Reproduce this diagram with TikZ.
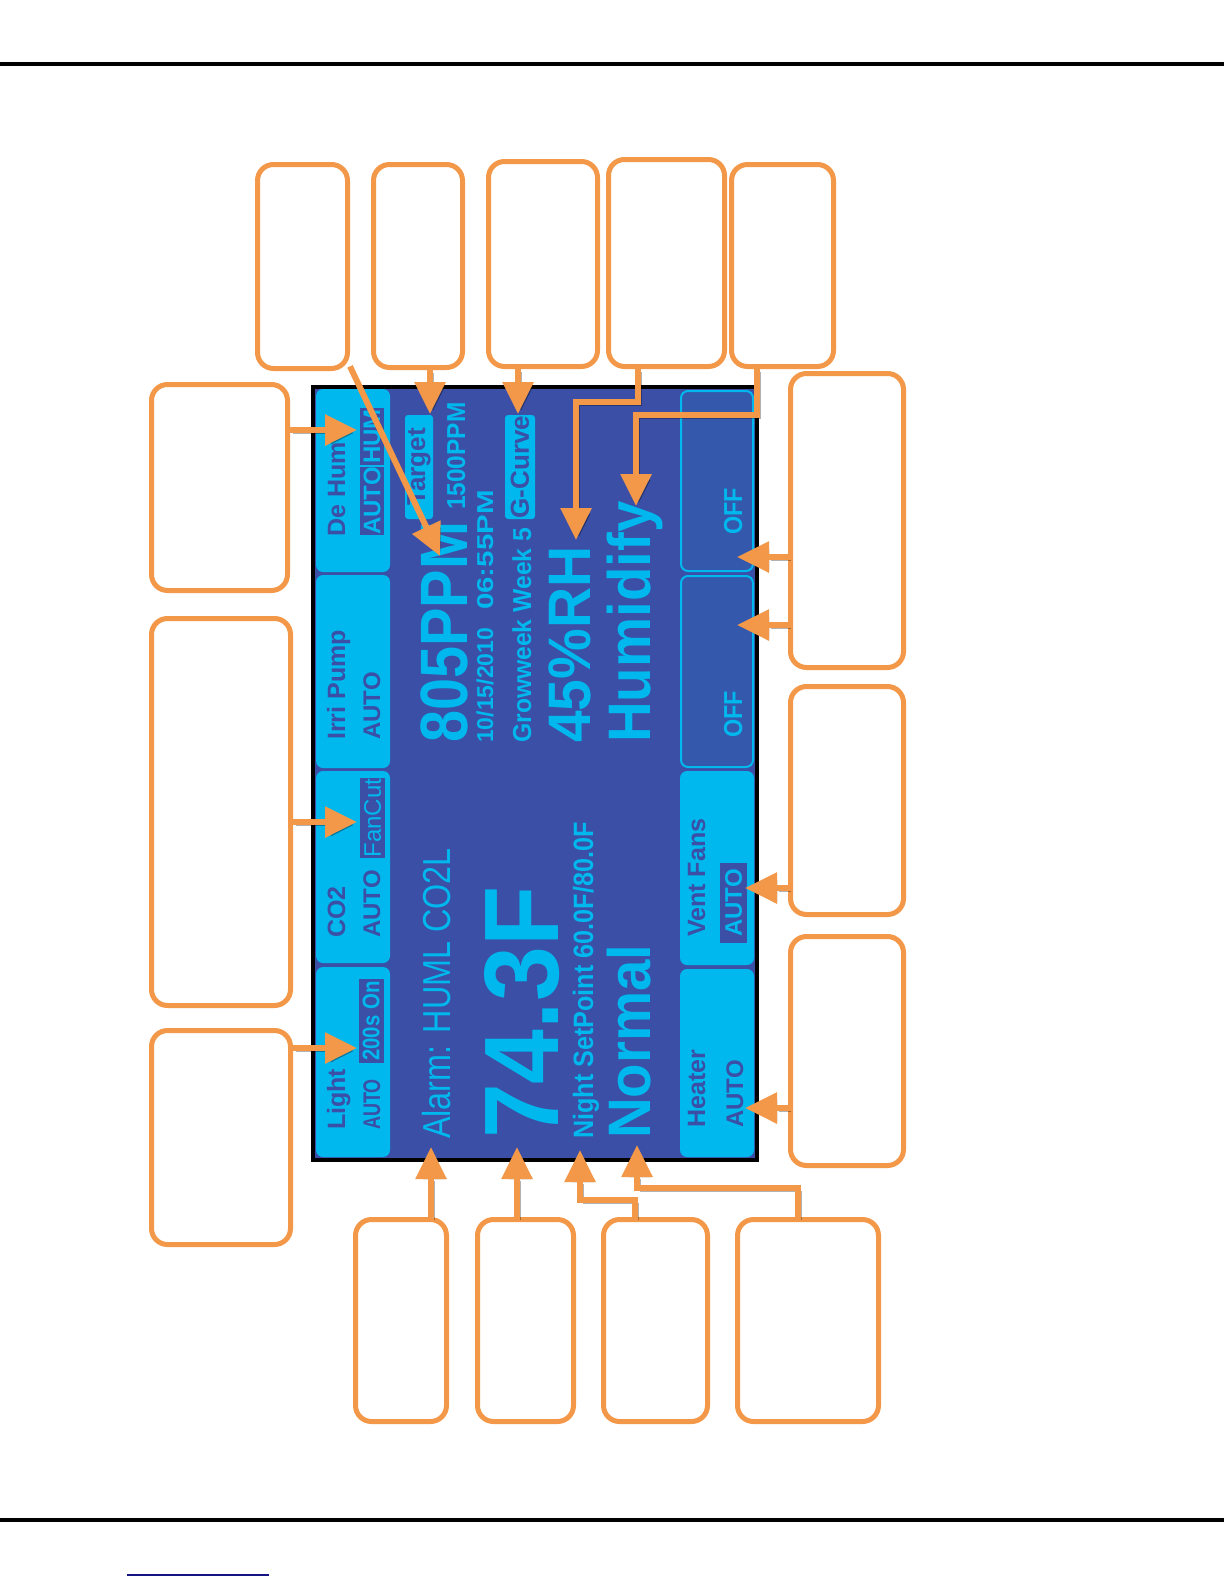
\documentclass[tikz,border=0pt]{standalone}
\usepackage{fontspec}
\setmainfont{Liberation Sans}
\usetikzlibrary{arrows.meta,calc,positioning}
\definecolor{scrblue}{RGB}{58,79,165}
\definecolor{scrcyan}{RGB}{0,183,238}
\definecolor{offblue}{RGB}{52,88,172}
\definecolor{callout}{RGB}{243,152,72}
\definecolor{linknavy}{RGB}{20,20,130}
\newcommand{\scrfont}[1]{\fontsize{#1}{#1}\selectfont}

\begin{document}
\begin{tikzpicture}[
  x=1pt, y=-1pt,
  tab/.style={fill=scrcyan,rounded corners=7pt,inner sep=0pt},
  offtab/.style={fill=offblue,draw=scrcyan,line width=2pt,rounded corners=7pt,inner sep=0pt},
  lbl/.style={rotate=90,anchor=base west,inner sep=0pt,text=scrblue,font=\bfseries\scrfont{25}},
  val/.style={rotate=90,anchor=base west,inner sep=0pt,text=scrcyan},
  hl/.style={rotate=90,fill=scrblue,text=scrcyan,inner sep=0pt,font=\bfseries\scrfont{24}},
  tag/.style={rotate=90,fill=scrcyan,text=scrblue,rounded corners=3pt,inner sep=0pt,font=\bfseries\scrfont{26}},
  callbox/.style={draw=callout,line width=5pt,fill=white,rounded corners=16pt,inner sep=0pt},
  lead/.style={draw=callout,line width=6pt,-{Triangle[length=32pt,width=30pt]},
    preaction={draw=black,opacity=0.3,transform canvas={shift={(3pt,-3pt)}}}}
]
\useasboundingbox (0,0) rectangle (1224,1584);

% page rules
\draw[line width=4pt] (0,64) -- (1224,64);
\draw[line width=4pt] (0,1520) -- (1224,1520);
\draw[linknavy,line width=2pt] (127,1575) -- (269,1575);

% screen
\node[fill=black,minimum width=448pt,minimum height=777pt,inner sep=0pt] (frame) at (535,773.5) {};
\node[fill=scrblue,minimum width=440pt,minimum height=769pt,inner sep=0pt] (screen) at (535,773.5) {};

% left buttons
\node[tab,minimum width=74pt,minimum height=183pt] (bDeHum) at (353,480.5) {};
\node[tab,minimum width=74pt,minimum height=193pt] (bIrri) at (353,671.5) {};
\node[tab,minimum width=74pt,minimum height=192pt] (bCO2) at (353,867) {};
\node[tab,minimum width=74pt,minimum height=190pt] (bLight) at (353,1062) {};
% right buttons
\node[offtab,minimum width=72pt,minimum height=180pt] (bOffA) at (717,481) {};
\node[offtab,minimum width=72pt,minimum height=191pt] (bOffB) at (717,671.5) {};
\node[tab,minimum width=74pt,minimum height=194pt] (bVent) at (717,868) {};
\node[tab,minimum width=74pt,minimum height=188pt] (bHeat) at (717,1063) {};

% button labels
\node[lbl] (tDeHum) at (345,537) {De Hum};
\node[hl,minimum width=68pt,minimum height=24pt] (hAuto) at (372,501) {AUTO};
\node[hl,minimum width=57pt,minimum height=24pt] (hHum) at (372,436.5) {HUM};
\node[lbl] (tIrri) at (345,740) {Irri Pump};
\node[lbl,font=\bfseries\scrfont{24}] (tIrriAuto) at (380,740) {AUTO};
\node[lbl] (tCO2) at (345,938) {CO2};
\node[lbl,font=\bfseries\scrfont{24}] (tCO2Auto) at (380,938) {AUTO};
\node[hl,font=\scrfont{24},minimum width=80pt,minimum height=25pt] (hFan) at (372.5,818) {FanCut};
\node[lbl] (tLight) at (345,1130) {Light};
\node[lbl,font=\bfseries\scrfont{24},xscale=0.75] (tLightAuto) at (380,1130) {AUTO};
\node[hl,xscale=0.85,minimum width=99pt,minimum height=25pt] (hOn) at (371,1021) {200s On};
\node[val,font=\bfseries\scrfont{26},xscale=0.9] (tOffA) at (742,535) {OFF};
\node[val,font=\bfseries\scrfont{26},xscale=0.9] (tOffB) at (742,738) {OFF};
\node[lbl] (tVent) at (705,937) {Vent Fans};
\node[hl,minimum width=80pt,minimum height=27pt] (hVent) at (733.5,903) {AUTO};
\node[lbl] (tHeat) at (705,1128) {Heater};
\node[lbl,font=\bfseries\scrfont{24}] (tHeatAuto) at (743,1128) {AUTO};

% readings
\node[val,font=\bfseries\scrfont{67},xscale=0.86] (tPPM) at (467,743) {805PPM};
\node[tag,minimum width=104pt,minimum height=28pt] (gTarget) at (419,467) {Target};
\node[val,font=\bfseries\scrfont{26},xscale=0.94] (tSet) at (465,510) {1500PPM};
\node[val,font=\bfseries\scrfont{23}] (tDate) at (493,743) {10/15/2010};
\node[val,font=\bfseries\scrfont{23},xscale=1.28] (tTime) at (493,610) {06:55PM};
\node[val,font=\bfseries\scrfont{26},xscale=0.95] (tWeek) at (531,743) {Growweek Week 5};
\node[tag,minimum width=104pt,minimum height=30pt] (gCurve) at (520,467) {G-Curve};
\node[val,font=\bfseries\scrfont{60},xscale=0.95] (tRH) at (590,743) {45\%RH};
\node[val,font=\bfseries\scrfont{60},xscale=0.94] (tHumid) at (650,743) {Humidify};
\node[val,font=\scrfont{39},xscale=0.83] (tAlarm) at (450,1139) {Alarm: HUML CO2L};
\node[val,font=\bfseries\scrfont{106},xscale=0.93] (tTemp) at (558,1139) {74.3F};
\node[val,font=\bfseries\scrfont{28},xscale=0.9] (tNight) at (593,1139) {Night SetPoint 60.0F/80.0F};
\node[val,font=\bfseries\scrfont{60},xscale=0.94] (tNormal) at (650,1139) {Normal};

% callout boxes
\node[callbox,minimum width=90pt,minimum height=204pt] (cA) at (302.5,266.5) {};
\node[callbox,minimum width=89pt,minimum height=203pt] (cB) at (418,266) {};
\node[callbox,minimum width=109pt,minimum height=205pt] (cC) at (543,264) {};
\node[callbox,minimum width=116pt,minimum height=207pt] (cD) at (666.5,263) {};
\node[callbox,minimum width=102pt,minimum height=202pt] (cE) at (782.5,265.5) {};
\node[callbox,minimum width=136pt,minimum height=206pt] (cF) at (219.5,487.5) {};
\node[callbox,minimum width=139pt,minimum height=387pt] (cG) at (221,812) {};
\node[callbox,minimum width=139pt,minimum height=214pt] (cH) at (221,1137.5) {};
\node[callbox,minimum width=113pt,minimum height=294pt] (cI) at (847,520.5) {};
\node[callbox,minimum width=113pt,minimum height=228pt] (cJ) at (847,800.5) {};
\node[callbox,minimum width=113pt,minimum height=229pt] (cK) at (847,1051) {};
\node[callbox,minimum width=91pt,minimum height=202pt] (cL) at (401,1320.5) {};
\node[callbox,minimum width=96pt,minimum height=202pt] (cM) at (525.5,1320.5) {};
\node[callbox,minimum width=104pt,minimum height=202pt] (cN) at (655.5,1320.5) {};
\node[callbox,minimum width=141pt,minimum height=202pt] (cO) at (808,1320.5) {};

% arrow tips and bends
\coordinate (aA) at (440,556);
\coordinate (aB) at (430,414);
\coordinate (aC) at (518,414);
\coordinate (kD) at (638,402);
\coordinate (aD) at (576,540);
\coordinate (kE) at (757,415);
\coordinate (aE) at (636,506);
\coordinate (aF) at (357,430);
\coordinate (aG) at (357,822);
\coordinate (aH) at (357,1048);
\coordinate (aI1) at (737,557);
\coordinate (aI2) at (737,625);
\coordinate (aJ) at (745,888);
\coordinate (aK) at (745,1108);
\coordinate (aL) at (431,1147);
\coordinate (aM) at (517,1147);
\coordinate (kN) at (635,1200);
\coordinate (aN) at (580,1150);
\coordinate (kO) at (798,1188);
\coordinate (aO) at (637,1145);

% leaders
\draw[lead] (cA) -- (aA);
\draw[lead] (cB.south -| aB) -- (aB);
\draw[lead] (cC.south -| aC) -- (aC);
\draw[lead] (cD.south -| kD) -- (kD) -| (aD);
\draw[lead] (cE.south -| kE) -- (kE) -| (aE);
\draw[lead] (cF.east |- aF) -- (aF);
\draw[lead] (cG.east |- aG) -- (aG);
\draw[lead] (cH.east |- aH) -- (aH);
\draw[lead] (cI.west |- aI1) -- (aI1);
\draw[lead] (cI.west |- aI2) -- (aI2);
\draw[lead] (cJ.west |- aJ) -- (aJ);
\draw[lead] (cK.west |- aK) -- (aK);
\draw[lead] (cL.north -| aL) -- (aL);
\draw[lead] (cM.north -| aM) -- (aM);
\draw[lead] (cN.north -| kN) -- (kN) -| (aN);
\draw[lead] (cO.north -| kO) -- (kO) -| (aO);
\end{tikzpicture}
\end{document}
